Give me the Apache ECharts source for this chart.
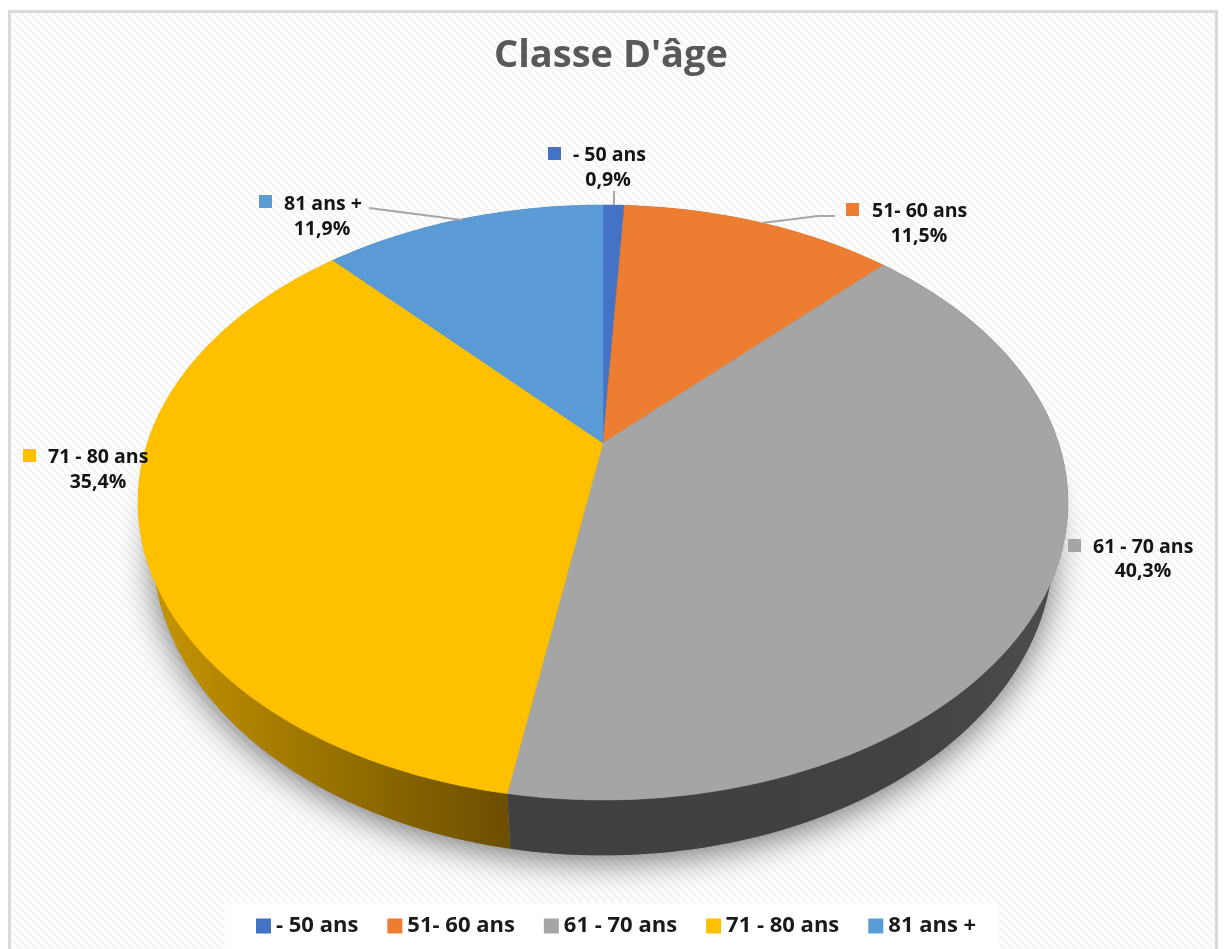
<!DOCTYPE html>
<html>
<head>
<meta charset="utf-8">
<title>Classe D'âge</title>
<style>
html, body { margin: 0; padding: 0; background: #fff; }
#chart { width: 1224px; height: 949px; }
</style>
<script src="https://cdn.jsdelivr.net/npm/echarts@6/dist/echarts.min.js"></script>
</head>
<body>
<div id="chart"></div>
<script>
var categories = ['- 50 ans', '51- 60 ans', '61 - 70 ans', '71 - 80 ans', '81 ans +']
var shares = [0.9, 11.5, 40.3, 35.4, 11.9]
var colors = ['#4472c4', '#ed7d31', '#a5a5a5', '#ffc000', '#5b9bd5']

// tilted disc: top face and base of the pie, seen in perspective
var tilt = 0.2
var topFace = { x: 603, y: 443, a: 455.6, b: 285.6 }
var baseFace = { x: 603, y: 487, a: 441, b: 294.7 }

// where each callout sits: square, first line, second line, leader line
var callouts = [
    { box: [548, 147], name: [573, 155], pct: [608, 180], line: [[614, 191], [614, 205]] },
    { box: [846, 203], name: [872, 211], pct: [919, 236], line: [[835, 216], [818, 216], [762, 223]] },
    { box: [1068, 539], name: [1093, 547], pct: [1143, 571], line: null },
    { box: [23, 449], name: [48, 457], pct: [98, 482], line: null },
    { box: [259, 195], name: [284, 204], pct: [322, 229], line: [[369, 208], [462, 220]] }
]

var wallFills = [
    '#2c4a80',
    '#9a5120',
    { type: 'linear', x: 1060, y: 0, x2: 510, y2: 0, global: true, colorStops: [
        { offset: 0, color: '#4c4c4c' }, { offset: 0.3, color: '#424242' }, { offset: 1, color: '#404040' }
    ] },
    { type: 'linear', x: 150, y: 0, x2: 510, y2: 0, global: true, colorStops: [
        { offset: 0, color: '#c69500' }, { offset: 1, color: '#6b4e00' }
    ] },
    '#3b6589'
]

function project(face, pct) {
    var rad = pct / 100 * Math.PI * 2
    var x = Math.sin(rad)
    var y = -Math.cos(rad)
    var w = 1 - tilt * y
    return [face.x + face.a * x / w, face.y + face.b * y / w]
}

function arc(face, from, to) {
    var pts = []
    var steps = Math.max(2, Math.ceil((to - from) * 3))
    for (var i = 0; i <= steps; i++) {
        pts.push(project(face, from + (to - from) * i / steps))
    }
    return pts
}

function hatchTile() {
    var c = document.createElement('canvas')
    c.width = 8
    c.height = 8
    var ctx = c.getContext('2d')
    ctx.fillStyle = '#ffffff'
    ctx.fillRect(0, 0, 8, 8)
    ctx.strokeStyle = '#f5f5f5'
    ctx.lineWidth = 2.8
    for (var i = -8; i <= 8; i += 8) {
        ctx.beginPath()
        ctx.moveTo(i, 0)
        ctx.lineTo(i + 8, 8)
        ctx.stroke()
    }
    return c
}

function renderSlice(params, api) {
    var i = params.seriesIndex
    var share = api.value(0)
    var from = api.value(1)
    var to = from + share
    var rim = arc(topFace, from, to)
    var base = arc(baseFace, from, to).reverse()
    var spot = callouts[i]
    var font = '700 19.5px "Open Sans"'
    var children = [
        {
            type: 'polygon',
            z2: 1,
            shape: { points: rim.concat(base) },
            style: { fill: wallFills[i] }
        },
        {
            type: 'polygon',
            z2: 10,
            shape: { points: [[topFace.x, topFace.y]].concat(rim) },
            style: { fill: colors[i], stroke: colors[i], lineWidth: 0.5 }
        },
        {
            type: 'rect',
            z2: 20,
            shape: { x: spot.box[0], y: spot.box[1], width: 13, height: 13 },
            style: { fill: colors[i] }
        },
        {
            type: 'text',
            z2: 21,
            style: { x: spot.name[0], y: spot.name[1], text: categories[i], font: font, fill: '#141414', textAlign: 'left', textVerticalAlign: 'middle' }
        },
        {
            type: 'text',
            z2: 21,
            style: { x: spot.pct[0], y: spot.pct[1], text: share.toFixed(1).replace('.', ',') + '%', font: font, fill: '#141414', textAlign: 'center', textVerticalAlign: 'middle' }
        }
    ]
    if (spot.line) {
        children.push({
            type: 'polyline',
            z2: 20,
            shape: { points: spot.line },
            style: { stroke: '#a6a6a6', lineWidth: 2, fill: null }
        })
    }
    return { type: 'group', children: children }
}

var running = 0
var series = categories.map(function(name, i) {
    var start = running
    running += shares[i]
    return {
        name: name,
        type: 'custom',
        coordinateSystem: 'none',
        silent: true,
        renderItem: renderSlice,
        data: [[shares[i], start]]
    }
})

var chart = echarts.init(document.getElementById('chart'), null, { renderer: 'canvas' })
chart.setOption({
    animation: false,
    backgroundColor: '#ffffff',
    color: colors,
    title: {
        text: "Classe D'âge",
        left: 606,
        top: 32,
        textAlign: 'center',
        textStyle: { color: '#595959', fontFamily: 'Open Sans', fontWeight: 700, fontSize: 38 }
    },
    legend: {
        data: categories,
        left: 225,
        top: 903,
        width: 800,
        padding: [12, 22, 12, 31],
        itemGap: 29,
        itemWidth: 15,
        itemHeight: 15,
        icon: 'rect',
        backgroundColor: '#ffffff',
        textStyle: { color: '#1a1a1a', fontFamily: 'Open Sans', fontWeight: 700, fontSize: 22 }
    },
    graphic: [
        {
            type: 'rect',
            silent: true,
            shape: { x: 9.5, y: 11.5, width: 1207, height: 960 },
            style: { fill: { image: hatchTile(), repeat: 'repeat' }, stroke: '#d9d9d9', lineWidth: 3 }
        },
        {
            type: 'polygon',
            silent: true,
            shape: { points: arc(baseFace, 0, 100) },
            style: { fill: '#808080', shadowColor: 'rgba(0,0,0,0.55)', shadowBlur: 34, shadowOffsetY: 6 }
        }
    ],
    series: series
})
</script>
</body>
</html>
